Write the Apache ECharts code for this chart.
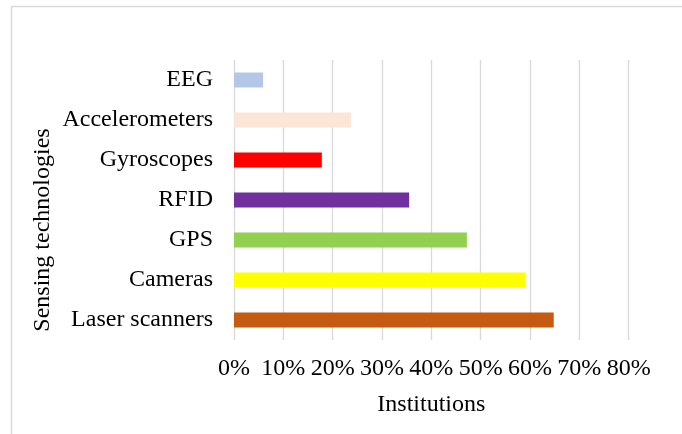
<!DOCTYPE html>
<html>
<head>
<meta charset="utf-8">
<script src="https://cdn.jsdelivr.net/npm/echarts@6/dist/echarts.min.js"></script>
<style>
  html, body { margin: 0; padding: 0; background: #ffffff; }
  #chart { width: 682px; height: 434px; }
</style>
</head>
<body>
<div id="chart"></div>
<script>
// Share of institutions using each sensing technology (percent)
const categories = ['Laser scanners', 'Cameras', 'GPS', 'RFID', 'Gyroscopes', 'Accelerometers', 'EEG'];
const values = [64.8, 59, 47.2, 35.5, 17.8, 23.7, 5.9];
const barColors = ['#c55a11', '#ffff00', '#92d050', '#7030a0', '#ff0000', '#fbe5d6', '#b4c7e7'];
const xTicks = [0, 10, 20, 30, 40, 50, 60, 70, 80];

const FONT = "'Liberation Serif', 'Times New Roman', serif";
const chart = echarts.init(document.getElementById('chart'), null, { renderer: 'canvas' });

chart.setOption({
  backgroundColor: '#ffffff',
  animation: false,
  textStyle: { fontFamily: FONT, color: '#000000' },
  graphic: [
    {
      type: 'rect',
      shape: { x: 11.5, y: 6.5, width: 700, height: 460 },
      style: { fill: 'none', stroke: '#d9d9d9', lineWidth: 1.5 },
      silent: true
    },
    {
      type: 'text',
      x: 43,
      y: 230,
      rotation: Math.PI / 2,
      style: {
        text: 'Sensing technologies',
        font: '24px ' + FONT,
        fill: '#000000',
        align: 'center',
        verticalAlign: 'middle'
      },
      silent: true
    }
  ],
  grid: { left: 234, right: 53.3, top: 60, bottom: 94, containLabel: false },
  xAxis: {
    type: 'value',
    min: xTicks[0],
    max: xTicks[xTicks.length - 1],
    interval: 10,
    name: 'Institutions',
    nameLocation: 'middle',
    nameGap: 53,
    nameTextStyle: { fontFamily: FONT, fontSize: 24, color: '#000000' },
    axisLine: { show: false },
    axisTick: { show: false },
    axisLabel: {
      formatter: '{value}%',
      fontFamily: FONT,
      fontSize: 24,
      color: '#000000',
      margin: 17
    },
    splitLine: { show: true, lineStyle: { color: '#d9d9d9', width: 1.3 } }
  },
  yAxis: {
    type: 'category',
    data: categories,
    axisLine: { show: false },
    axisTick: { show: false },
    splitLine: { show: false },
    axisLabel: {
      fontFamily: FONT,
      fontSize: 24,
      color: '#000000',
      margin: 21
    }
  },
  series: [{
    type: 'bar',
    data: values.map((v, i) => ({ value: v, itemStyle: { color: barColors[i] } })),
    barWidth: 15
  }]
});
</script>
</body>
</html>
